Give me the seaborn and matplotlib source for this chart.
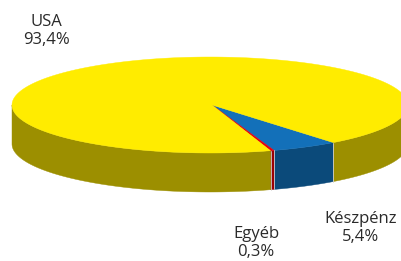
import numpy as np
import matplotlib
matplotlib.use("Agg")
import matplotlib.pyplot as plt
import seaborn as sns
from matplotlib.patches import Polygon

sns.set_theme(style="white")
plt.rcParams['font.family'] = ['Open Sans', 'DejaVu Sans']

labels = ["Készpénz", "Egyéb", "USA"]
values = [5.4, 0.3, 93.4]
value_text = ["5,4%", "0,3%", "93,4%"]
top_colors = ["#1370B9", "#E3000F", "#FFEC00"]
side_colors = ["#0B4A7A", "#9A0005", "#9C8F00"]

cx, cy, rx, ry, depth = 210, 105, 198, 48, 39
start_deg = -51.5

fig = plt.figure(figsize=(4.01, 2.61), dpi=100)
ax = fig.add_axes([0, 0, 1, 1])
ax.set_xlim(0, 401)
ax.set_ylim(261, 0)
ax.axis("off")

fr = np.array(values) / np.sum(values)
ends = start_deg - 360 * np.cumsum(fr)
starts = np.concatenate([[start_deg], ends[:-1]])

def pt(t, dy=0):
    r = np.radians(t)
    return cx + rx * np.cos(r), cy - ry * np.sin(r) + dy

# sides (front half: angles between -180 and 0)
for s, e, col in zip(starts, ends, side_colors):
    for off in (0, -360, 360):
        a = min(s + off, 0)
        b = max(e + off, -180)
        if a > b:
            ts = np.linspace(a, b, 80)
            top = [pt(t) for t in ts]
            bot = [pt(t, depth) for t in ts[::-1]]
            ax.add_patch(Polygon(top + bot, closed=True, facecolor=col,
                                 edgecolor=col, linewidth=0.3))
# light separators on the side at slice borders
for s in starts:
    t = ((s + 180) % 360) - 180
    if -180 < t < 0:
        x0, y0 = pt(t)
        ax.plot([x0, x0], [y0, y0 + depth], color="#cfcfcf", lw=0.6)

# tops
for s, e, col in zip(starts, ends, top_colors):
    ts = np.linspace(s, e, 300)
    poly = [(cx + 2, cy)] + [pt(t) for t in ts]
    ax.add_patch(Polygon(poly, closed=True, facecolor=col, edgecolor=col, linewidth=0.3))

txt = dict(fontsize=12, color="#2a2a2a", ha="center", va="center", linespacing=1.2)
ax.text(46, 31, labels[2] + "\n" + value_text[2], **txt)
ax.text(256, 243, labels[1] + "\n" + value_text[1], **txt)
ax.text(361, 228, labels[0] + "\n" + value_text[0], **txt)

fig.savefig("out.png", dpi=100)
